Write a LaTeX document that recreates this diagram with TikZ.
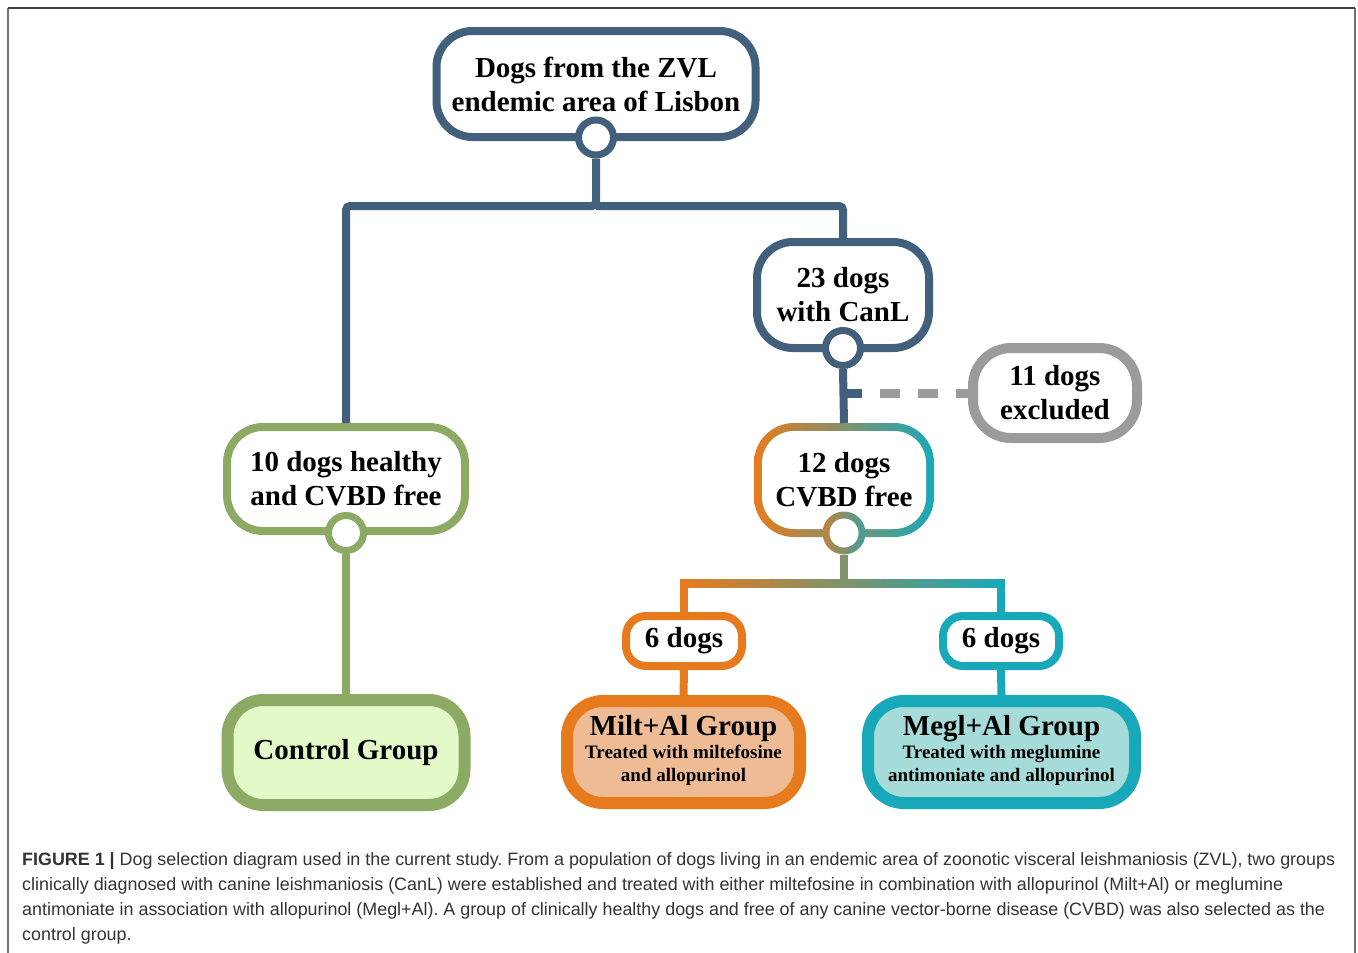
\documentclass[tikz,border=0pt]{standalone}
\usepackage{fontspec}
\setmainfont{Liberation Serif}
\newfontfamily\capfont{Liberation Sans}
\usetikzlibrary{calc}

\definecolor{blueline}{HTML}{42607C}
\definecolor{greenline}{HTML}{8CAA64}
\definecolor{limefill}{HTML}{E4F9C8}
\definecolor{orangeline}{HTML}{E87A1E}
\definecolor{peachfill}{HTML}{EFBB95}
\definecolor{tealline}{HTML}{17A9B9}
\definecolor{tealfill}{HTML}{A5DBD8}
\definecolor{greyline}{HTML}{9B9B9B}
\definecolor{captext}{HTML}{333333}

\newcommand{\boxfont}{\bfseries\fontsize{29}{34}\selectfont}
\newcommand{\subfont}{\bfseries\fontsize{19}{23}\selectfont}
\newcommand{\sublines}[2]{{\subfont\begin{tabular}[t]{@{}c@{}}#1\\#2\end{tabular}}}

\tikzset{
  box/.style={draw, rectangle, rounded corners=36pt, line width=8pt, fill=white,
    align=center, inner sep=0pt, font=\boxfont},
  grp/.style={box, line width=12pt},
  knob/.style={draw, circle, fill=white, line width=7pt, minimum size=35pt, inner sep=0pt},
  link/.style={line width=8pt, rounded corners=4pt},
  dashlink/.style={line width=9pt, greyline, dash pattern=on 20pt off 18pt, dash phase=20pt},
  gbox/.style={rectangle, rounded corners=40pt, left color=orangeline, right color=tealline,
    align=center, inner sep=0pt, outer sep=0pt, font=\boxfont,
    path picture={\fill[white, rounded corners=32pt]
      ([shift={(8pt,8pt)}]path picture bounding box.south west) rectangle
      ([shift={(-8pt,-8pt)}]path picture bounding box.north east);}},
  gknob/.style={circle, minimum size=43pt, inner sep=0pt, outer sep=0pt,
    left color=orangeline!80!tealline, right color=tealline!80!orangeline,
    path picture={\fill[white] (path picture bounding box.center) circle[radius=14.5pt];}}
}

\begin{document}
\begin{tikzpicture}[x=1pt, y=-1pt]
\useasboundingbox (0,0) rectangle (1358,953);

% frame
\draw[line width=1.5pt, black!55] (8,953) -- (8,8);
\draw[line width=1.5pt, black!55] (1355,8) -- (1355,953);
\draw[line width=1.5pt, black!75] (8,8) -- (1355,8);

% boxes
\node[box, draw=blueline, minimum width=319pt, minimum height=106pt] (zvl) at (596,84)
  {Dogs from the ZVL\\endemic area of Lisbon};
\node[box, draw=blueline, minimum width=172pt, minimum height=106pt] (canl) at (843,295)
  {23 dogs\\with CanL};
\node[box, draw=greyline, line width=10pt, rounded corners=38pt,
  minimum width=164pt, minimum height=90pt] (excl) at (1055,393) {11 dogs\\excluded};
\node[gbox, minimum width=180pt, minimum height=114pt] (cvbd) at (844,480)
  {12 dogs\\CVBD free};
\node[box, draw=greenline, minimum width=238pt, minimum height=104pt] (healthy) at (346,479)
  {10 dogs healthy\\and CVBD free};
\node[grp, draw=greenline, fill=limefill, minimum width=237pt, minimum height=105pt]
  (control) at (346,752.5) {Control Group};
\node[box, draw=orangeline, rounded corners=20pt, minimum width=116pt, minimum height=50pt]
  (sixm) at (684,641) {6 dogs};
\node[box, draw=tealline, rounded corners=20pt, minimum width=116pt, minimum height=50pt]
  (sixg) at (1001,641) {6 dogs};
\node[grp, draw=orangeline, fill=peachfill, minimum width=233pt, minimum height=102pt]
  (milt) at (683.5,752)
  {Milt+Al Group\\[-11pt]\sublines{Treated with miltefosine}{and allopurinol}};
\node[grp, draw=tealline, fill=tealfill, minimum width=267pt, minimum height=102pt]
  (megl) at (1001.5,752)
  {Megl+Al Group\\[-11pt]\sublines{Treated with meglumine}{antimoniate and allopurinol}};

% knobs
\node[knob, draw=blueline] (zvlk) at (596,137.5) {};
\node[knob, draw=blueline] (canlk) at (843,348) {};
\node[knob, draw=greenline] (healthyk) at (346,533) {};
\node[gknob] (cvbdk) at (844,533) {};

% connectors
\coordinate (split) at (596,206);
\coordinate (cut) at (843,393);
\coordinate (stub) at (862,393);
\coordinate (bar) at (844,583.5);

\draw[link, blueline] (zvlk.south) -- (split) -| (healthy.north);
\draw[link, blueline] (split) -| (canl.north);
\draw[link, blueline] (canlk.south) -- (cvbd.north);
\draw[line width=9pt, blueline] (cut) -- (stub);
\draw[dashlink] (stub) -- (excl.west);
\draw[link, greenline] (healthyk.south) -- (control.north);

\draw[line width=8pt, orangeline!50!tealline] (cvbdk.south) -- (bar);
\shade[left color=orangeline, right color=tealline]
  ($(sixm.north |- bar)+(-4,-4)$) rectangle ($(sixg.north |- bar)+(4,4)$);
\draw[line width=8pt, orangeline] (sixm.north |- bar) -- (sixm.north);
\draw[line width=8pt, tealline] (sixg.north |- bar) -- (sixg.north);
\draw[line width=8pt, orangeline] (sixm.south) -- (milt.north);
\draw[line width=8pt, tealline] (sixg.south) -- (megl.north);

% caption
\node[anchor=north west, align=left, inner sep=0pt, text=captext,
  font=\capfont\frenchspacing\fontsize{17.9}{25}\selectfont] (capt) at (22,852)
  {\textbf{FIGURE 1 |} Dog selection diagram used in the current study. From a population of dogs living in an endemic area of zoonotic visceral leishmaniosis (ZVL), two groups\\
   clinically diagnosed with canine leishmaniosis (CanL) were established and treated with either miltefosine in combination with allopurinol (Milt+Al) or meglumine\\
   antimoniate in association with allopurinol (Megl+Al). A group of clinically healthy dogs and free of any canine vector-borne disease (CVBD) was also selected as the\\
   control group.};
\end{tikzpicture}
\end{document}
